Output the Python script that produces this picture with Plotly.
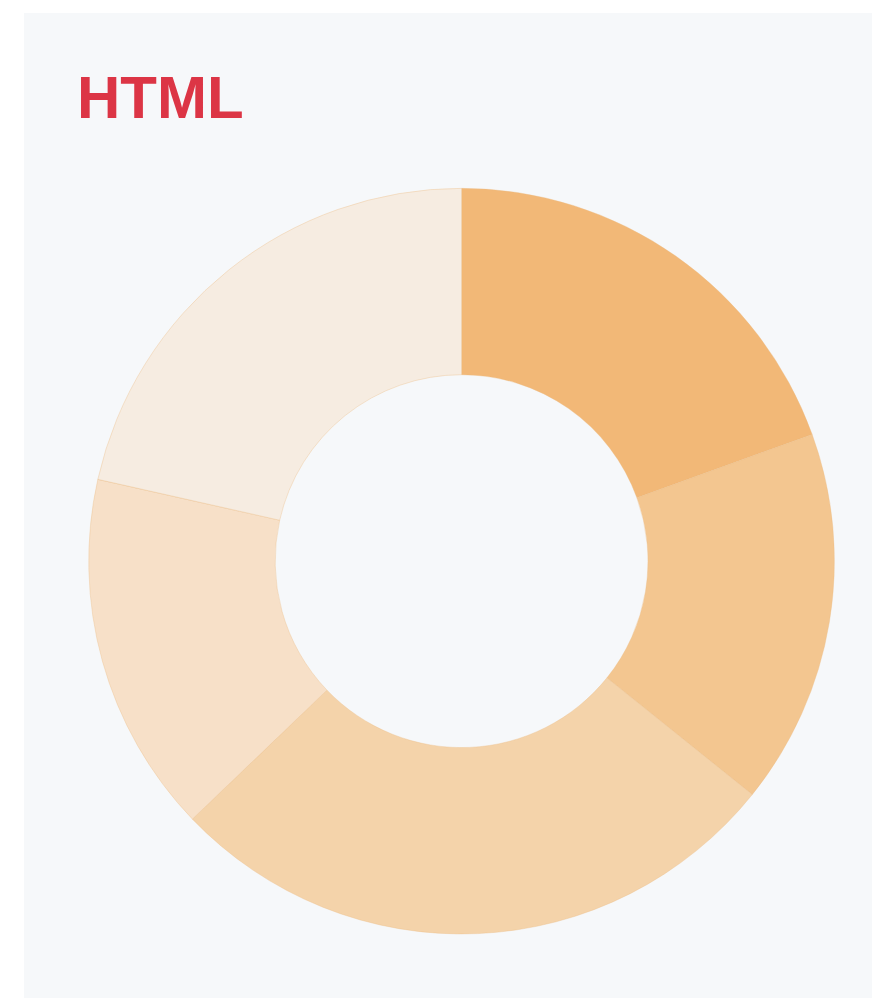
import plotly.graph_objects as go

# donut slices, clockwise from 12 o'clock
labels = ["Part 1", "Part 2", "Part 3", "Part 4", "Part 5"]
values = [19.5, 16.3, 27.1, 15.7, 21.5]
colors = ["#f2b877", "#f3c690", "#f4d3aa", "#f7e0c8", "#f6ece1"]

title_text = "HTML"

fig = go.Figure()
fig.add_trace(go.Pie(
    labels=labels,
    values=values,
    hole=0.5,
    sort=False,
    direction="clockwise",
    rotation=0,
    marker=dict(colors=colors, line=dict(color="rgba(235,185,130,0.35)", width=1)),
    textinfo="none",
    hoverinfo="label+percent",
    domain=dict(x=[0.076, 0.956], y=[0.065, 0.822]),
    showlegend=False,
))

# light grey card behind the chart
fig.add_shape(type="rect", xref="paper", yref="paper", x0=0, x1=1, y0=0, y1=1,
              fillcolor="#f6f8fa", line=dict(width=0), layer="below")

fig.add_annotation(text="<b>" + title_text + "</b>", xref="paper", yref="paper",
                   x=0.0606, y=0.950, xanchor="left", yanchor="top", showarrow=False,
                   font=dict(family="Liberation Sans, Arial, sans-serif", size=60, color="#dc3545"))

fig.update_layout(
    width=872, height=998,
    margin=dict(l=24, t=13, r=0, b=0),
    paper_bgcolor="white",
    plot_bgcolor="#f6f8fa",
)

# drop the default page margin so the figure sits at the window corner
fig.write_html("out.html", config={"displayModeBar": False},
               post_script="document.body.style.margin='0';document.body.style.overflow='hidden';")
